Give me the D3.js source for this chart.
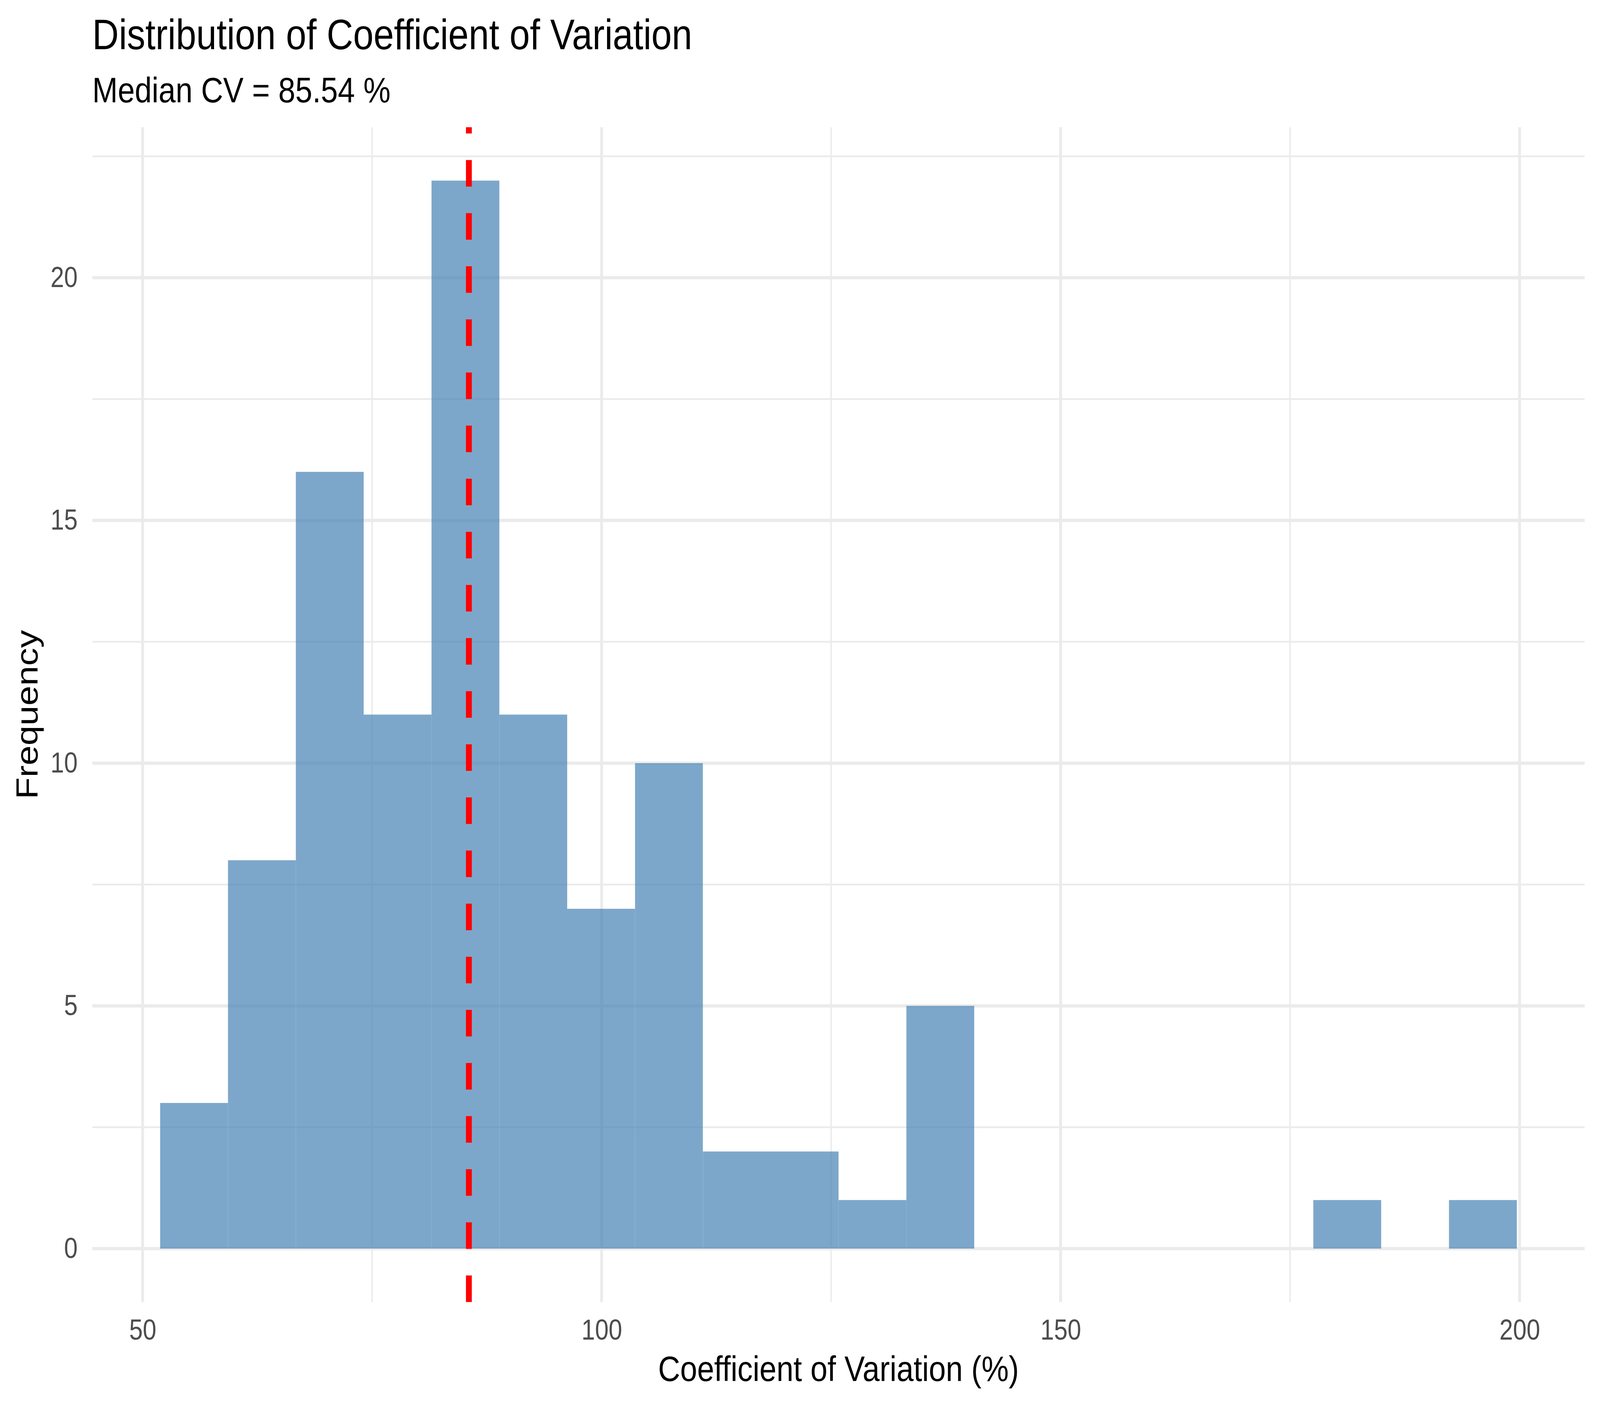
<!DOCTYPE html>
<html>
<head>
<meta charset="utf-8">
<script src="https://cdn.jsdelivr.net/npm/d3@7"></script>
<style>
  html, body { margin: 0; padding: 0; width: 100%; height: 100%; overflow: hidden; background: #fff; }
  #container { width: 100vw; height: 100vh; }
  svg { display: block; }
  text { font-family: "Liberation Sans", Arial, sans-serif; }
</style>
</head>
<body>
<div id="container"></div>
<script>
/* DATA */
// histogram bin edges, 20 bins
const binEdges = [51.91, 59.30, 66.69, 74.08, 81.47, 88.86, 96.25, 103.64, 111.03, 118.42,
                  125.81, 133.20, 140.59, 147.97, 155.36, 162.75, 170.14, 177.53, 184.92,
                  192.31, 199.70];
const counts = [3, 8, 16, 11, 22, 11, 7, 10, 2, 2, 1, 5, 0, 0, 0, 0, 0, 1, 0, 1];
const medianCV = 85.54;
const xMajor = [50, 100, 150, 200];
const xMinor = [75, 125, 175];
const yMajor = [0, 5, 10, 15, 20];
const yMinor = [2.5, 7.5, 12.5, 17.5, 22.5];

const titleText = "Distribution of Coefficient of Variation";
const subtitleText = "Median CV = 85.54 %";
const xTitle = "Coefficient of Variation (%)";
const yTitle = "Frequency";

/* CONSTANTS */
const width = 4800,
      height = 3600,
      margin = {top: 325.7, bottom: 3600 - 3333.7, left: 277, right: 4800 - 4754};

const bins = counts.map((c, i) => ({x0: binEdges[i], x1: binEdges[i + 1], n: c}));

// ggplot style 5% expansion on both axes
const xLo = binEdges[0], xHi = binEdges[binEdges.length - 1];
const xPad = (xHi - xLo) * 0.05;
const xScale = d3.scaleLinear()
  .domain([xLo - xPad, xHi + xPad])
  .range([margin.left, width - margin.right]);

const yMax = d3.max(counts);
const yScale = d3.scaleLinear()
  .domain([-yMax * 0.05, yMax * 1.05])
  .range([height - margin.bottom, margin.top]);

// the drawing is laid out on a 4800x3600 canvas and stretched to fill the window
const svg = d3.select("#container")
  .append("svg")
  .attr("viewBox", `0 0 ${width} ${height}`)
  .attr("preserveAspectRatio", "none")
  .attr("width", "100%")
  .attr("height", "100%")
  .style("background", "#fff");

const x0 = margin.left, x1 = width - margin.right;
const y0 = height - margin.bottom, y1 = margin.top;

// + GRID
const grid = svg.append("g").attr("stroke", "#EBEBEB");
grid.selectAll(".ymin").data(yMinor).join("line")
  .attr("x1", x0).attr("x2", x1)
  .attr("y1", d => yScale(d)).attr("y2", d => yScale(d))
  .attr("stroke-width", 4.4);
grid.selectAll(".xmin").data(xMinor).join("line")
  .attr("y1", y0).attr("y2", y1)
  .attr("x1", d => xScale(d)).attr("x2", d => xScale(d))
  .attr("stroke-width", 4.4);
grid.selectAll(".ymaj").data(yMajor).join("line")
  .attr("x1", x0).attr("x2", x1)
  .attr("y1", d => yScale(d)).attr("y2", d => yScale(d))
  .attr("stroke-width", 8.5);
grid.selectAll(".xmaj").data(xMajor).join("line")
  .attr("y1", y0).attr("y2", y1)
  .attr("x1", d => xScale(d)).attr("x2", d => xScale(d))
  .attr("stroke-width", 8.5);

// + BARS
svg.append("g")
  .selectAll("rect")
  .data(bins.filter(d => d.n > 0))
  .join("rect")
  .attr("x", d => xScale(d.x0))
  .attr("width", d => xScale(d.x1) - xScale(d.x0))
  .attr("y", d => yScale(d.n))
  .attr("height", d => yScale(0) - yScale(d.n))
  .attr("fill", "steelblue")
  .attr("fill-opacity", 0.7);

// + MEDIAN LINE (dash pattern starts at the panel bottom)
svg.append("line")
  .attr("x1", xScale(medianCV)).attr("x2", xScale(medianCV))
  .attr("y1", y0).attr("y2", y1)
  .attr("stroke", "red")
  .attr("stroke-width", 17.5)
  .attr("stroke-dasharray", "68,68");

// + AXES
const xAxis = d3.axisBottom(xScale).tickValues(xMajor).tickSize(0).tickPadding(44);
const yAxis = d3.axisLeft(yScale).tickValues(yMajor).tickSize(0).tickPadding(44);

const gx = svg.append("g")
  .attr("transform", `translate(0, ${y0})`)
  .call(xAxis);
const gy = svg.append("g")
  .attr("transform", `translate(${x0}, 0)`)
  .call(yAxis);

[gx, gy].forEach(g => {
  g.select(".domain").remove();
  g.selectAll("text")
    .attr("font-family", "'Liberation Sans', Arial, sans-serif")
    .attr("font-size", 73.3)
    .attr("fill", "#4D4D4D");
});

// + TITLES
svg.append("text")
  .attr("x", x0).attr("y", 126)
  .attr("font-size", 110)
  .attr("fill", "#000")
  .text(titleText);

svg.append("text")
  .attr("x", x0).attr("y", 262)
  .attr("font-size", 91.7)
  .attr("fill", "#000")
  .text(subtitleText);

svg.append("text")
  .attr("x", (x0 + x1) / 2).attr("y", 3536)
  .attr("text-anchor", "middle")
  .attr("font-size", 91.7)
  .attr("fill", "#000")
  .text(xTitle);

svg.append("text")
  .attr("transform", `translate(113, ${(y0 + y1) / 2}) rotate(-90)`)
  .attr("text-anchor", "middle")
  .attr("font-size", 91.7)
  .attr("fill", "#000")
  .text(yTitle);
</script>
</body>
</html>
